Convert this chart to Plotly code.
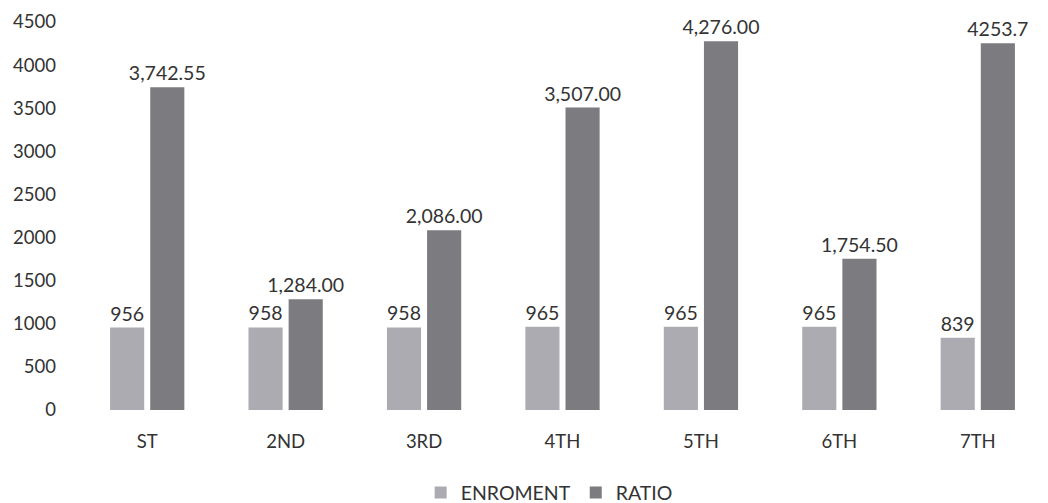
import plotly.graph_objects as go

categories = ["ST", "2ND", "3RD", "4TH", "5TH", "6TH", "7TH"]
enrolment = [956, 958, 958, 965, 965, 965, 839]
ratio = [3742.55, 1284.00, 2086.00, 3507.00, 4276.00, 1754.50, 4253.7]
enrol_labels = ["956", "958", "958", "965", "965", "965", "839"]
ratio_labels = ["3,742.55", "1,284.00", "2,086.00", "3,507.00", "4,276.00", "1,754.50", "4253.7"]
y_ticks = [0, 500, 1000, 1500, 2000, 2500, 3000, 3500, 4000, 4500]

FONT = "Lato, 'Open Sans', sans-serif"
TXT = "#333333"

fig = go.Figure()
fig.add_trace(go.Bar(x=categories, y=enrolment, name="ENROMENT",
                     marker=dict(color="#ababb1", line=dict(width=0)),
                     text=enrol_labels, textposition="outside", constraintext="none",
                     textfont=dict(size=19.5, color=TXT, family=FONT),
                     cliponaxis=False))
fig.add_trace(go.Bar(x=categories, y=ratio, name="RATIO",
                     marker=dict(color="#7b7b80", line=dict(width=0)),
                     text=ratio_labels, textposition="outside", constraintext="none",
                     textfont=dict(size=19.5, color=TXT, family=FONT),
                     cliponaxis=False))

fig.update_layout(
    width=1048, height=503,
    margin=dict(l=78, r=1, t=22, b=93, autoexpand=False),
    paper_bgcolor="white", plot_bgcolor="white",
    barmode="group", bargap=0.42, bargroupgap=0.15,
    font=dict(family=FONT, size=18.5, color=TXT),
    showlegend=True,
    legend=dict(orientation="h", xref="container", x=0.524, xanchor="center",
                yref="container", y=0.02, yanchor="middle",
                font=dict(size=19.5, color=TXT), itemwidth=30, traceorder="normal"),
    xaxis=dict(showgrid=False, showline=False, zeroline=False, ticks="",
               ticklabelstandoff=18, tickfont=dict(size=18.5, color=TXT)),
    yaxis=dict(range=[0, 4500], tickvals=y_ticks, showgrid=False, showline=False,
               zeroline=False, ticks="", ticklabelstandoff=21,
               tickfont=dict(size=18.5, color=TXT)),
)

fig.write_html("out.html")
